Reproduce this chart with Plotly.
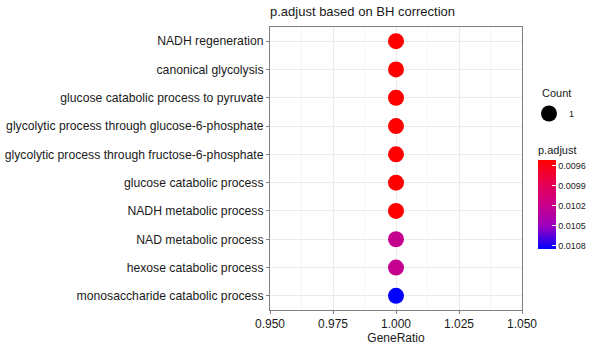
import plotly.graph_objects as go

terms = [
    "NADH regeneration",
    "canonical glycolysis",
    "glucose catabolic process to pyruvate",
    "glycolytic process through glucose-6-phosphate",
    "glycolytic process through fructose-6-phosphate",
    "glucose catabolic process",
    "NADH metabolic process",
    "NAD metabolic process",
    "hexose catabolic process",
    "monosaccharide catabolic process",
]
gene_ratio = [1.0] * 10
count = [1] * 10
p_adjust = [0.00952, 0.00952, 0.00952, 0.00952, 0.00952, 0.00952, 0.00952,
            0.01022, 0.01022, 0.01085]
cbar_ticks = [0.0096, 0.0099, 0.0102, 0.0105, 0.0108]
cbar_labels = ["0.0096", "0.0099", "0.0102", "0.0105", "0.0108"]
x_ticks = [0.950, 0.975, 1.000, 1.025, 1.050]
x_labels = ["0.950", "0.975", "1.000", "1.025", "1.050"]

pmin, pmax = min(p_adjust), max(p_adjust)
colorscale = [
    [0.0, "rgb(0,0,255)"],
    [0.25, "rgb(154,0,194)"],
    [0.5, "rgb(202,0,137)"],
    [0.75, "rgb(232,0,79)"],
    [1.0, "rgb(255,0,0)"],
]

FONT = "Liberation Sans, Arial, sans-serif"

# layout geometry (pixels)
L, R, T, B = 270, 10, 27, 40
W, H = 600, 350
PW = W - L - R          # paper width
PH = H - T - B          # paper height
panel_right = 522

def px_x(x):
    return (x - L) / PW

def px_y(y):
    return (H - B - y) / PH

fig = go.Figure()
fig.add_trace(go.Scatter(
    x=gene_ratio, y=terms, mode="markers",
    marker=dict(
        size=16, color=[-p for p in p_adjust], colorscale=colorscale,
        cmin=-pmax, cmax=-pmin,
        colorbar=dict(
            title=dict(text="p.adjust", side="top", font=dict(size=11, color="#1a1a1a")),
            tickvals=[-t for t in cbar_ticks], ticktext=cbar_labels,
            tickfont=dict(size=9, color="#1a1a1a"),
            thickness=18, lenmode="pixels", len=106, ypad=0, xpad=0,
            x=px_x(538), xanchor="left", y=px_y(143), yanchor="top",
            outlinewidth=0, ticks="inside", tickcolor="white", ticklen=4,
        ),
        line=dict(width=0),
    ),
    showlegend=False,
    hovertemplate="%{y}<extra></extra>",
))
fig.add_trace(go.Scatter(
    x=[None], y=[None], mode="markers", name=str(count[0]),
    marker=dict(size=16, color="black"), showlegend=True,
))

fig.update_layout(
    width=W, height=H,
    margin=dict(l=L, r=R, t=T, b=B, autoexpand=False),
    paper_bgcolor="white", plot_bgcolor="white",
    font=dict(family=FONT, color="#1a1a1a"),
    title=dict(text="p.adjust based on BH correction", x=px_x(270), xref="paper",
               xanchor="left", y=1 - 11 / H, yanchor="middle",
               font=dict(size=13, color="#1a1a1a")),
    legend=dict(font=dict(size=9),
                x=px_x(529), xanchor="left", y=px_y(99), yanchor="top",
                itemsizing="trace", bgcolor="rgba(0,0,0,0)"),
    annotations=[dict(text="Count", x=px_x(540), y=px_y(93), xref="paper",
                      yref="paper", xanchor="left", yanchor="middle",
                      showarrow=False, font=dict(size=11, color="#1a1a1a"))],
    xaxis=dict(
        domain=[0, (panel_right - L) / PW],
        range=[0.95, 1.05], tickvals=x_ticks, ticktext=x_labels,
        title=dict(text="GeneRatio", font=dict(size=12), standoff=2),
        tickfont=dict(size=12, color="#1a1a1a"),
        showgrid=True, gridcolor="#ebebeb", gridwidth=1,
        minor=dict(tickvals=[0.9625, 0.9875, 1.0125, 1.0375], showgrid=True,
                   gridcolor="#f5f5f5", gridwidth=1),
        ticks="outside", ticklen=3, tickcolor="#808080",
        showline=True, linecolor="#808080", linewidth=1, mirror=True,
        zeroline=False,
    ),
    yaxis=dict(
        categoryorder="array", categoryarray=terms[::-1],
        range=[-0.5, 9.5],
        tickfont=dict(size=12.2, color="#1a1a1a"),
        showgrid=True, gridcolor="#ebebeb", gridwidth=1,
        ticks="outside", ticklen=3, tickcolor="#808080",
        showline=True, linecolor="#808080", linewidth=1, mirror=True,
        zeroline=False,
    ),
)

fig.write_html("out.html")
